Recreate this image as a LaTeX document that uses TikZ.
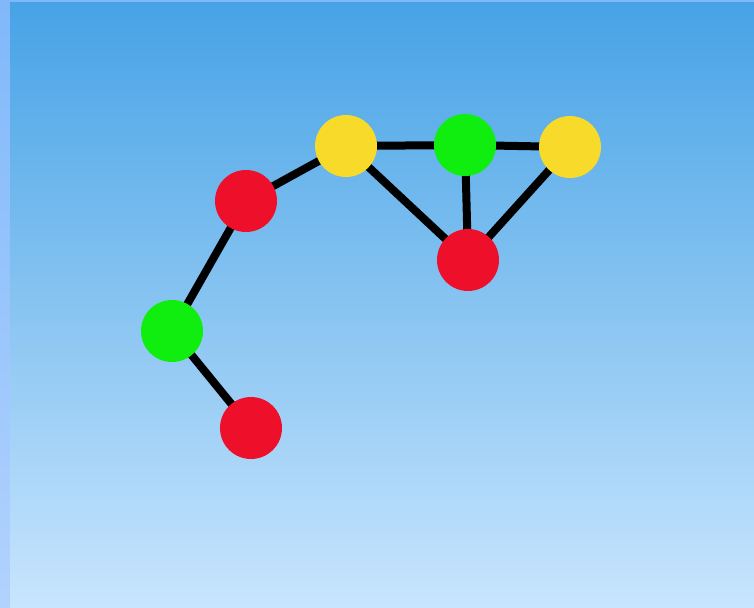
\documentclass[tikz,border=0pt]{standalone}
\usepackage{tikz}
\usetikzlibrary{positioning}
\definecolor{skytop}{RGB}{71,163,230}
\definecolor{skymid}{RGB}{132,190,240}
\definecolor{skybot}{RGB}{200,229,253}
\definecolor{stripe}{RGB}{128,184,250}
\definecolor{stripebot}{RGB}{178,210,254}
\definecolor{dotred}{RGB}{238,16,42}
\definecolor{dotgreen}{RGB}{16,238,16}
\definecolor{dotyellow}{RGB}{248,218,42}
\pgfdeclarelayer{sky}
\pgfdeclarelayer{links}
\pgfsetlayers{sky,links,main}

\begin{document}
\begin{tikzpicture}[x=1pt,y=-1pt,
    dot/.style={circle,minimum size=62pt,inner sep=0pt},
    link/.style={line width=8pt,black}]
    % Background
    \useasboundingbox (0,0) rectangle (754,607);
    \begin{pgfonlayer}{sky}
    \shade[top color=stripe,bottom color=stripebot] (0,0) rectangle (10,607);
    \fill[stripe] (10,0) rectangle (754,3);
    \shade[top color=skytop,middle color=skymid,bottom color=skybot] (10,3) rectangle (754,607);
    \end{pgfonlayer}

    % Nodes
    \node[dot,fill=dotyellow] (y1) at (346,146) {};
    \node[dot,fill=dotgreen] (g1) at (465,145) {};
    \node[dot,fill=dotyellow] (y2) at (570,147) {};
    \node[dot,fill=dotred] (r1) at (468,260) {};
    \node[dot,fill=dotred] (r2) at (246,201) {};
    \node[dot,fill=dotgreen] (g2) at (172,331) {};
    \node[dot,fill=dotred] (r3) at (251,428) {};

    % Links
    \begin{pgfonlayer}{links}
    \foreach \a/\b in {r2/y1,y1/g1,g1/y2,y1/r1,g1/r1,y2/r1,r2/g2,g2/r3} {
        \draw[link] (\a.center) -- (\b.center);
    }
    \end{pgfonlayer}
\end{tikzpicture}
\end{document}
